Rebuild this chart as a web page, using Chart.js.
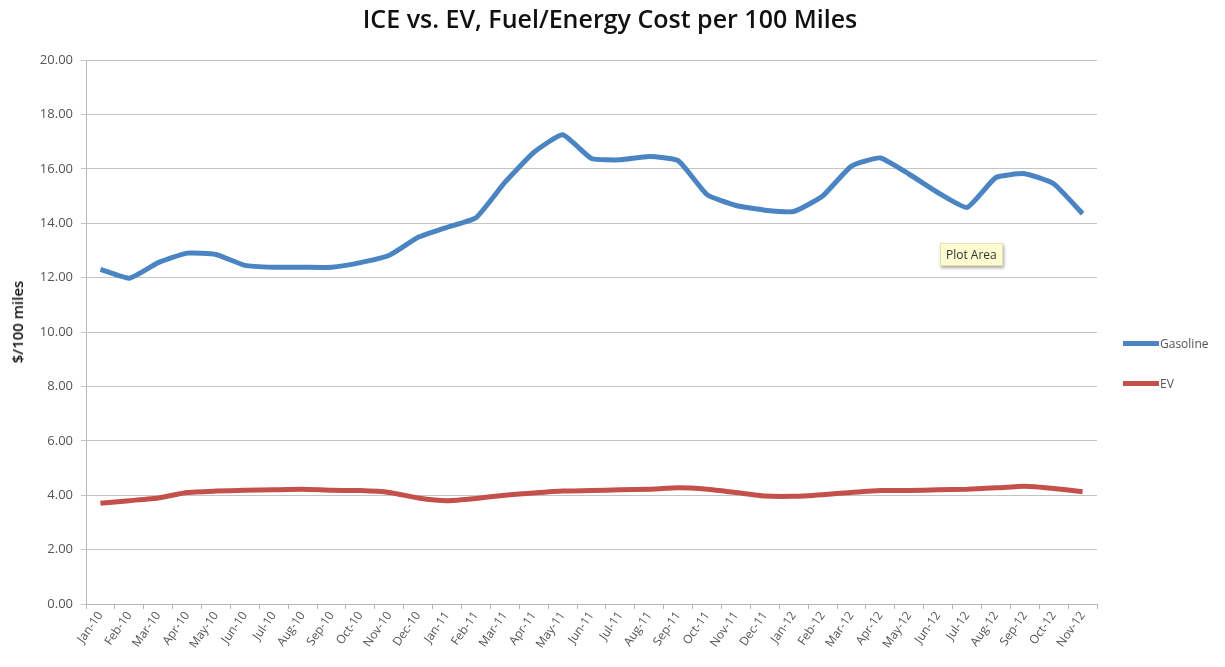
<!DOCTYPE html>
<html lang="en">
<head>
    <meta charset="UTF-8">
    <title>ICE vs. EV, Fuel/Energy Cost per 100 Miles</title>
    <script src="https://cdn.jsdelivr.net/npm/chart.js"></script>
    <style>
        body {
            margin: 0;
            background: #ffffff;
            font-family: "Open Sans", Arial, sans-serif;
        }
        .wrap {
            position: relative;
            width: 1225px;
            height: 667px;
        }
        h1 {
            position: absolute;
            top: 1px;
            left: 0;
            width: 1220px;
            margin: 0;
            text-align: center;
            font-size: 25px;
            font-weight: 600;
            color: #111;
        }
        .ytitle {
            position: absolute;
            left: 17px;
            top: 322px;
            transform: translate(-50%, -50%) rotate(-90deg);
            white-space: nowrap;
            font-size: 15px;
            font-weight: 600;
            color: #111;
        }
        .legend {
            position: absolute;
            left: 1123px;
            top: 333px;
            font-size: 12px;
            color: #555;
        }
        .legend div {
            display: flex;
            align-items: center;
            height: 20px;
            margin-bottom: 20px;
        }
        .legend span.swatch {
            display: inline-block;
            width: 36px;
            height: 5px;
            margin-right: 1px;
        }
        /* the little hover note left on the plot */
        .note {
            position: absolute;
            left: 940px;
            top: 243px;
            padding: 2px 5px;
            font-size: 12px;
            color: #333;
            background: #fdfbd0;
            border: 1px solid #e4e2b0;
            box-shadow: 1px 2px 3px rgba(0, 0, 0, 0.35);
        }
        canvas {
            position: absolute;
            left: 0;
            top: 0;
        }
    </style>
</head>
<body>
<div class="wrap">
    <canvas id="costChart" width="1225" height="667"></canvas>
    <h1>ICE vs. EV, Fuel/Energy Cost per 100 Miles</h1>
    <div class="ytitle">$/100 miles</div>
    <div class="legend" id="legend"></div>
    <div class="note">Plot Area</div>
</div>

<script>
    const months = [
        'Jan-10', 'Feb-10', 'Mar-10', 'Apr-10', 'May-10', 'Jun-10', 'Jul-10', 'Aug-10', 'Sep-10', 'Oct-10', 'Nov-10', 'Dec-10',
        'Jan-11', 'Feb-11', 'Mar-11', 'Apr-11', 'May-11', 'Jun-11', 'Jul-11', 'Aug-11', 'Sep-11', 'Oct-11', 'Nov-11', 'Dec-11',
        'Jan-12', 'Feb-12', 'Mar-12', 'Apr-12', 'May-12', 'Jun-12', 'Jul-12', 'Aug-12', 'Sep-12', 'Oct-12', 'Nov-12'
    ];

    const gasoline = [
        12.30, 11.98, 12.55, 12.90, 12.85, 12.45, 12.38, 12.38, 12.38, 12.55, 12.82, 13.48,
        13.85, 14.20, 15.50, 16.60, 17.25, 16.38, 16.33, 16.45, 16.30, 15.05, 14.65, 14.48,
        14.43, 15.00, 16.10, 16.40, 15.80, 15.12, 14.58, 15.68, 15.82, 15.45, 14.35
    ];

    const ev = [
        3.70, 3.80, 3.90, 4.10, 4.15, 4.18, 4.20, 4.22, 4.18, 4.17, 4.10, 3.90,
        3.80, 3.88, 4.00, 4.08, 4.15, 4.17, 4.20, 4.22, 4.27, 4.22, 4.10, 3.97,
        3.96, 4.02, 4.10, 4.17, 4.17, 4.20, 4.22, 4.27, 4.33, 4.25, 4.13
    ];

    const yTicks = [0, 2, 4, 6, 8, 10, 12, 14, 16, 18, 20];

    const series = [
        { label: 'Gasoline', data: gasoline, color: '#4a84c2' },
        { label: 'EV', data: ev, color: '#c4504c' }
    ];

    const axisFont = { family: '"Open Sans", Arial, sans-serif', size: 12 };

    new Chart(document.getElementById('costChart'), {
        type: 'line',
        data: {
            labels: months,
            datasets: series.map(s => ({
                label: s.label,
                data: s.data,
                borderColor: s.color,
                backgroundColor: s.color,
                borderWidth: 5,
                pointRadius: 0,
                tension: 0.15,
                borderCapStyle: 'butt',
                borderJoinStyle: 'round'
            }))
        },
        options: {
            responsive: false,
            animation: false,
            layout: { padding: { top: 60, right: 128, left: 0, bottom: 0 } },
            plugins: {
                legend: { display: false },
                tooltip: { enabled: false }
            },
            scales: {
                x: {
                    offset: true,
                    grid: {
                        offset: true,
                        drawOnChartArea: false,
                        tickLength: 5,
                        color: '#b8b8b8'
                    },
                    border: { color: '#b8b8b8', width: 1 },
                    ticks: {
                        autoSkip: false,
                        maxRotation: 55,
                        minRotation: 55,
                        padding: 0,
                        color: '#555',
                        font: axisFont
                    },
                    afterFit: scale => { scale.height = 63; }
                },
                y: {
                    min: 0,
                    max: 20,
                    afterBuildTicks: scale => { scale.ticks = yTicks.map(v => ({ value: v })); },
                    grid: {
                        color: '#c4c4c4',
                        tickLength: 5,
                        lineWidth: 1
                    },
                    border: { color: '#b8b8b8', width: 1 },
                    ticks: {
                        padding: 8,
                        color: '#555',
                        font: { family: '"Open Sans", Arial, sans-serif', size: 13 },
                        callback: v => Number(v).toFixed(2)
                    },
                    afterFit: scale => { scale.width = 86; }
                }
            }
        }
    });

    // legend to the right of the plot, same colours as the lines
    const legend = document.getElementById('legend');
    series.forEach(s => {
        const row = document.createElement('div');
        row.innerHTML = `<span class="swatch" style="background:${s.color}"></span>${s.label}`;
        legend.appendChild(row);
    });
</script>
</body>
</html>
